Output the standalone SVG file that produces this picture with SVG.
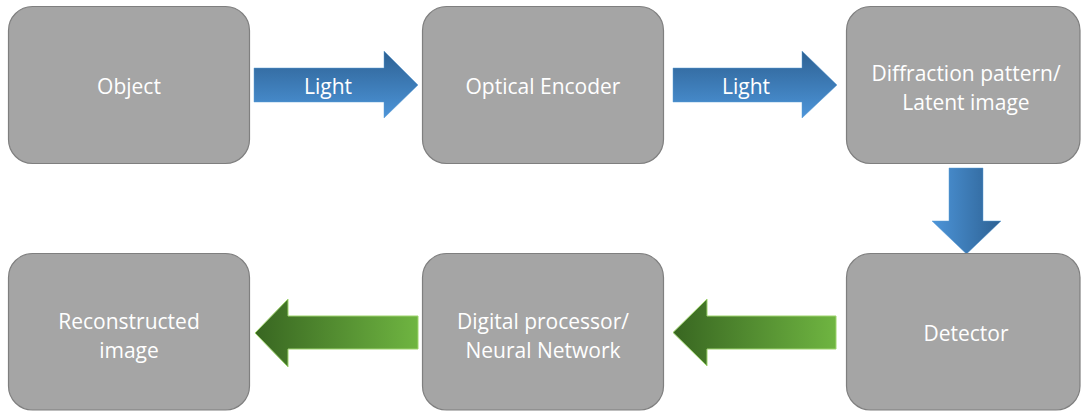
<svg xmlns="http://www.w3.org/2000/svg" width="1081" height="411" viewBox="0 0 1081 411">
  <defs>
    <linearGradient id="gBlueV" x1="0" y1="0" x2="0" y2="1">
      <stop offset="0" stop-color="#2d6193"/>
      <stop offset="1" stop-color="#4d95d9"/>
    </linearGradient>
    <linearGradient id="gBlueH" x1="0" y1="0" x2="1" y2="0">
      <stop offset="0" stop-color="#4d95d9"/>
      <stop offset="1" stop-color="#2d6193"/>
    </linearGradient>
    <linearGradient id="gGreen" x1="0" y1="0" x2="1" y2="0">
      <stop offset="0" stop-color="#386621"/>
      <stop offset="1" stop-color="#6fb541"/>
    </linearGradient>
    <style>
      .box { fill: #a5a5a5; stroke: #7f7f7f; stroke-width: 1.2; }
      .lbl { fill: #ffffff; font-family: "Open Sans", "Liberation Sans", sans-serif; font-size: 21px; text-anchor: middle; }
      .blue { stroke: #5b9bd5; stroke-width: 0.8; stroke-opacity: 0.6; }
      .green { fill: url(#gGreen); stroke: #9fd46e; stroke-width: 1; }
    </style>
  </defs>

  <g id="connectors">
    <g id="arrow-object-encoder">
      <polygon class="blue" fill="url(#gBlueV)" points="254,68 384,68 384,51 418,85 384,118 384,102 254,102"/>
      <text class="lbl" x="328" y="94">Light</text>
    </g>
    <g id="arrow-encoder-diffraction">
      <polygon class="blue" fill="url(#gBlueV)" points="673,68 802,68 802,51 837,85 802,118 802,102 673,102"/>
      <text class="lbl" x="746" y="94">Light</text>
    </g>
    <g id="arrow-diffraction-detector">
      <polygon class="blue" fill="url(#gBlueH)" points="949,168 983,168 983,221 1001,221 966.5,254 932,221 949,221"/>
    </g>
    <g id="arrow-detector-digital">
      <polygon class="green" points="836,316 836,349 707,349 707,366 673,332.5 707,299 707,316"/>
    </g>
    <g id="arrow-digital-reconstructed">
      <polygon class="green" points="418,316 418,349 288,349 288,367 255,333 288,299 288,316"/>
    </g>
  </g>

  <g id="node-object">
    <rect class="box" x="8.5" y="6.5" width="241" height="157" rx="24" ry="24"/>
    <text class="lbl" x="129" y="94">Object</text>
  </g>
  <g id="node-optical-encoder">
    <rect class="box" x="422.5" y="6.5" width="241" height="157" rx="24" ry="24"/>
    <text class="lbl" x="543" y="94">Optical Encoder</text>
  </g>
  <g id="node-diffraction">
    <rect class="box" x="846.5" y="6.5" width="233.5" height="157" rx="24" ry="24"/>
    <text class="lbl" x="966" y="81">Diffraction pattern/</text>
    <text class="lbl" x="966" y="110">Latent image</text>
  </g>
  <g id="node-detector">
    <rect class="box" x="846.5" y="253.5" width="233.5" height="156.5" rx="24" ry="24"/>
    <text class="lbl" x="966" y="341">Detector</text>
  </g>
  <g id="node-digital">
    <rect class="box" x="422.5" y="253.5" width="241" height="156.5" rx="24" ry="24"/>
    <text class="lbl" x="543" y="329">Digital processor/</text>
    <text class="lbl" x="543" y="358">Neural Network</text>
  </g>
  <g id="node-reconstructed">
    <rect class="box" x="8.5" y="253.5" width="241" height="156.5" rx="24" ry="24"/>
    <text class="lbl" x="129" y="329">Reconstructed</text>
    <text class="lbl" x="129" y="358">image</text>
  </g>
</svg>
